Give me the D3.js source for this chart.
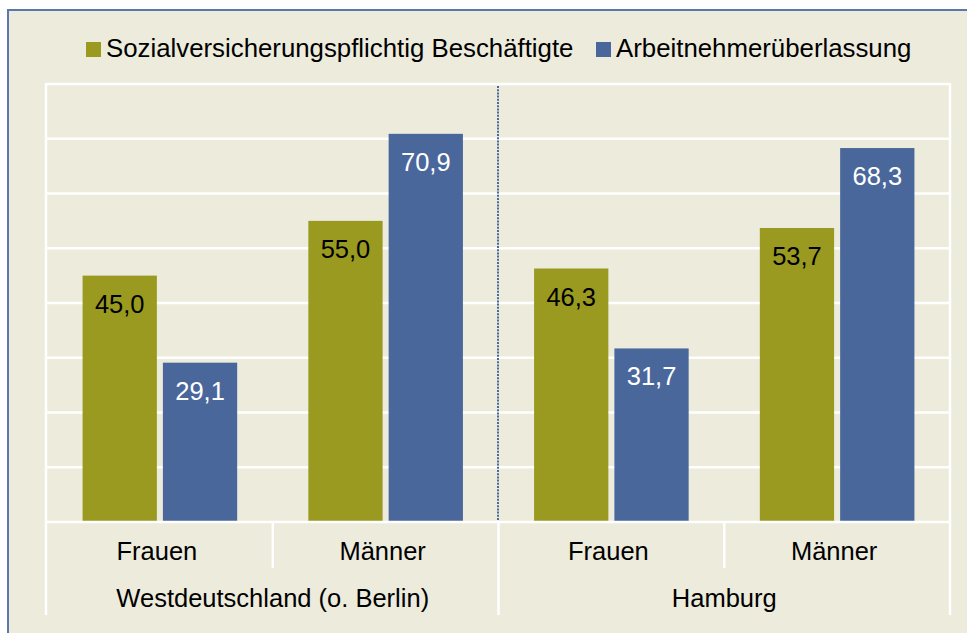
<!DOCTYPE html>
<html>
<head>
<meta charset="utf-8">
<script src="https://cdn.jsdelivr.net/npm/d3@7"></script>
<style>
  body { margin: 0; padding: 0; background: #fff; }
  svg { display: block; }
  text { font-family: "Liberation Sans", Arial, sans-serif; }
</style>
</head>
<body>
<svg id="chart" width="967" height="633"></svg>
<script>
// data
const groups = ["Westdeutschland (o. Berlin)", "Hamburg"];
const genders = ["Frauen", "Männer"];
const seriesNames = ["Sozialversicherungspflichtig Beschäftigte", "Arbeitnehmerüberlassung"];
const svBeschaeftigte = [45.0, 55.0, 46.3, 53.7];
const arbeitnehmerueberlassung = [29.1, 70.9, 31.7, 68.3];
const yTicks = [10, 20, 30, 40, 50, 60, 70, 80];

const colors = ["#999a1f", "#4a679c"];
const labelColors = ["#000", "#fff"];
const bg = "#ecebdc";

const categories = [];
groups.forEach(g => genders.forEach(s => categories.push(g + "|" + s)));
const rows = categories.map((c, i) => ({
  key: c,
  group: c.split("|")[0],
  gender: c.split("|")[1],
  values: [svBeschaeftigte[i], arbeitnehmerueberlassung[i]]
}));

const fmt = d3.formatLocale({ decimal: ",", thousands: ".", grouping: [3], currency: ["", "€"] }).format(".1f");

const svg = d3.select("#chart");

// outer frame
svg.append("rect").attr("x", 8).attr("y", 10).attr("width", 1000).attr("height", 700)
  .attr("fill", bg).attr("stroke", "#5a78ac").attr("stroke-width", 2);

const plotLeft = 47, plotRight = 950, plotTop = 84, base = 522;

const x = d3.scaleBand().domain(categories).range([plotLeft, plotRight]).padding(0);
const xInner = d3.scaleBand().domain([0, 1]).range([0, x.bandwidth()])
  .paddingInner(0.075).paddingOuter(0.443);
const y = d3.scaleLinear().domain([0, 80]).range([base, plotTop]);

// gridlines
svg.append("g").selectAll("line").data(yTicks).join("line")
  .attr("x1", plotLeft).attr("x2", plotRight)
  .attr("y1", d => y(d)).attr("y2", d => y(d))
  .attr("stroke", "#fff").attr("stroke-width", 2.5);

// plot sides
svg.append("line").attr("x1", plotLeft - 1).attr("x2", plotLeft - 1).attr("y1", plotTop - 1).attr("y2", 615)
  .attr("stroke", "#fff").attr("stroke-width", 2.5);
svg.append("line").attr("x1", plotRight).attr("x2", plotRight).attr("y1", plotTop - 1).attr("y2", 615)
  .attr("stroke", "#fff").attr("stroke-width", 2.5);

// bars
const catG = svg.append("g").selectAll("g").data(rows).join("g")
  .attr("transform", d => `translate(${x(d.key)},0)`);

catG.selectAll("rect").data(d => d.values.map((v, i) => ({ v, i }))).join("rect")
  .attr("x", d => xInner(d.i))
  .attr("width", xInner.bandwidth())
  .attr("y", d => y(d.v))
  .attr("height", d => base - y(d.v))
  .attr("fill", d => colors[d.i]);

catG.selectAll("text").data(d => d.values.map((v, i) => ({ v, i }))).join("text")
  .attr("x", d => xInner(d.i) + xInner.bandwidth() / 2)
  .attr("y", d => y(d.v) + 37)
  .attr("text-anchor", "middle")
  .attr("font-size", "25.5px")
  .attr("fill", d => labelColors[d.i])
  .text(d => fmt(d.v));

// dotted separator between groups
const sepX = Math.round(x(categories[2])) - 1;
svg.append("line").attr("x1", sepX).attr("x2", sepX)
  .attr("y1", plotTop + 2).attr("y2", base)
  .attr("stroke", "#4a679c").attr("stroke-width", 2).attr("stroke-dasharray", "2,1.2");

// axis baseline
svg.append("line").attr("x1", plotLeft - 1).attr("x2", plotRight).attr("y1", base).attr("y2", base)
  .attr("stroke", "#fff").attr("stroke-width", 2.5);

// tick separators
svg.append("g").selectAll("line").data(categories.slice(1)).join("line")
  .attr("x1", d => x(d)).attr("x2", d => x(d))
  .attr("y1", base).attr("y2", d => d.endsWith("|" + genders[0]) ? 615 : 568)
  .attr("stroke", "#fff").attr("stroke-width", 2.5);

// category labels
svg.append("g").selectAll("text").data(rows).join("text")
  .attr("x", d => x(d.key) + x.bandwidth() / 2 - 3)
  .attr("y", 560)
  .attr("text-anchor", "middle")
  .attr("font-size", "25.5px")
  .attr("fill", "#000")
  .text(d => d.gender);

svg.append("g").selectAll("text").data(groups).join("text")
  .attr("x", g => (x(g + "|" + genders[0]) + x(g + "|" + genders[1]) + x.bandwidth()) / 2)
  .attr("y", 607)
  .attr("text-anchor", "middle")
  .attr("font-size", "25.5px")
  .attr("fill", "#000")
  .text(g => g);

// legend
const legendX = [86, 596];
const leg = svg.append("g").selectAll("g").data(seriesNames).join("g")
  .attr("transform", (d, i) => `translate(${legendX[i]},42)`);
leg.append("rect").attr("width", 15).attr("height", 15).attr("fill", (d, i) => colors[i]);
leg.append("text").attr("x", 20).attr("y", 14.5)
  .attr("font-size", "25.8px").attr("fill", "#000")
  .text(d => d);
</script>
</body>
</html>
